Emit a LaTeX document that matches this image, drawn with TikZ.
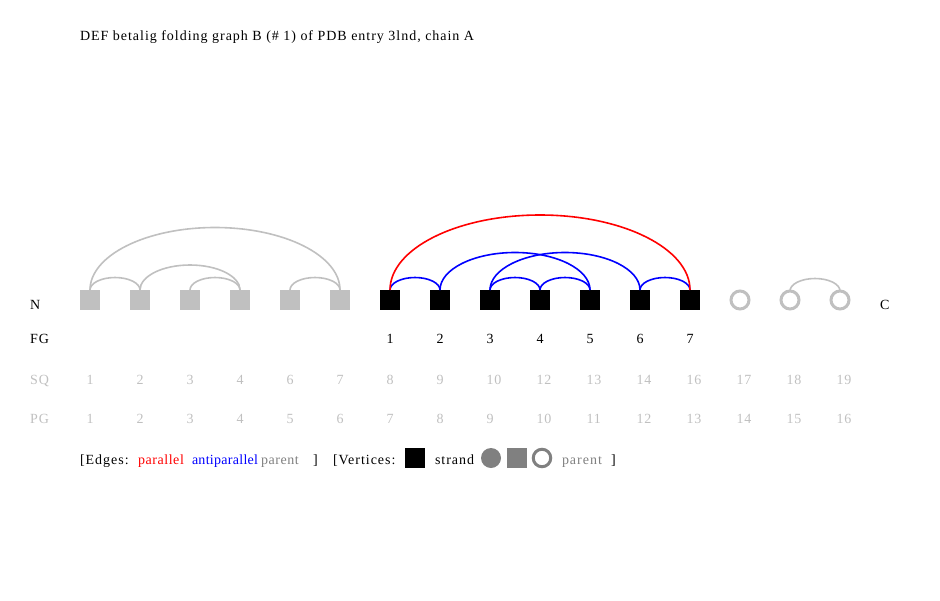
\documentclass[tikz,border=0pt]{standalone}
\usepackage{fontspec}
\setmainfont{Liberation Serif}[LetterSpace=7]
\usetikzlibrary{calc}
\definecolor{lgray}{HTML}{C0C0C0}
\definecolor{mgray}{HTML}{808080}
\definecolor{pblue}{HTML}{0000FF}
\definecolor{pred}{HTML}{FF0000}
\newcommand{\farc}[3]{\draw[edgeline,#1] let \p1=(#2.north), \p2=(#3.north) in (\p1) arc[start angle=180, end angle=0, x radius={0.5*(\x2-\x1)}, y radius={0.25*(\x2-\x1)}];}
\begin{document}
\begin{tikzpicture}[x=1pt,y=-1pt,
  every node/.style={inner sep=0pt, outer sep=0pt, font=\fontsize{14}{16}\selectfont},
  gsq/.style={rectangle, minimum size=20pt, fill=lgray},
  bsq/.style={rectangle, minimum size=20pt, fill=black},
  msq/.style={rectangle, minimum size=20pt, fill=mgray},
  gring/.style={circle, minimum size=18pt, draw=lgray, line width=3pt},
  mring/.style={circle, minimum size=17.5pt, draw=mgray, line width=3pt},
  mdisc/.style={circle, minimum size=20pt, fill=mgray},
  lbl/.style={anchor=base west},
  edgeline/.style={line width=1.6pt}]
\useasboundingbox (0,0) rectangle (940,600);
% title
\node[lbl] (title) at (80,40) {DEF betalig folding graph B (\# 1) of PDB entry 3lnd, chain A};
% vertices
\foreach \i in {1,...,6} \node[gsq] (v\i) at ({40+50*\i},300) {};
\foreach \i in {7,...,13} \node[bsq] (v\i) at ({40+50*\i},300) {};
\foreach \i in {14,15,16} \node[gring] (v\i) at ({40+50*\i},300) {};
% edges
\farc{lgray}{v1}{v2}
\farc{lgray}{v1}{v6}
\farc{lgray}{v2}{v4}
\farc{lgray}{v3}{v4}
\farc{lgray}{v5}{v6}
\farc{lgray}{v15}{v16}
\farc{pblue}{v7}{v8}
\farc{pblue}{v8}{v11}
\farc{pblue}{v9}{v10}
\farc{pblue}{v9}{v12}
\farc{pblue}{v10}{v11}
\farc{pblue}{v12}{v13}
\farc{pred}{v7}{v13}
% row labels
\node[lbl] (nlab) at (30,309) {N};
\node[lbl] (clab) at (880,309) {C};
\node[lbl] (fglab) at (30,343) {FG};
\node[lbl, text=lgray] (sqlab) at (30,384) {SQ};
\node[lbl, text=lgray] (pglab) at (30,423) {PG};
\foreach \s [count=\i] in {1,2,3,4,5,6,7} \node[lbl] (fg\i) at ({386.5+50*(\i-1)},343) {\s};
\foreach \s [count=\i] in {1,2,3,4,6,7,8,9,10,12,13,14,16,17,18,19} \node[lbl, text=lgray] (sq\i) at ({86.5+50*(\i-1)},384) {\s};
\foreach \s [count=\i] in {1,2,3,4,5,6,7,8,9,10,11,12,13,14,15,16} \node[lbl, text=lgray] (pg\i) at ({86.5+50*(\i-1)},423) {\s};
% legend
\node[lbl] (le1) at (80,464) {[Edges:};
\node[lbl, text=pred] (le2) at (138,464) {\addfontfeature{LetterSpace=4}parallel};
\node[lbl, text=pblue] (le3) at (192,464) {\addfontfeature{LetterSpace=2}antiparallel};
\node[lbl, text=mgray] (le4) at (261,464) {\addfontfeature{LetterSpace=4}parent};
\node[lbl] (le5) at (313,464) {]};
\node[lbl] (lv1) at (333,464) {[Vertices:};
\node[bsq] (lv2) at (415,458) {};
\node[lbl] (lv3) at (435,464) {strand};
\node[mdisc] (lv4) at (491,458) {};
\node[msq] (lv5) at (517,458) {};
\node[mring] (lv6) at (542,458) {};
\node[lbl, text=mgray] (lv7) at (562,464) {parent};
\node[lbl] (lv8) at (611,464) {]};
\end{tikzpicture}
\end{document}
